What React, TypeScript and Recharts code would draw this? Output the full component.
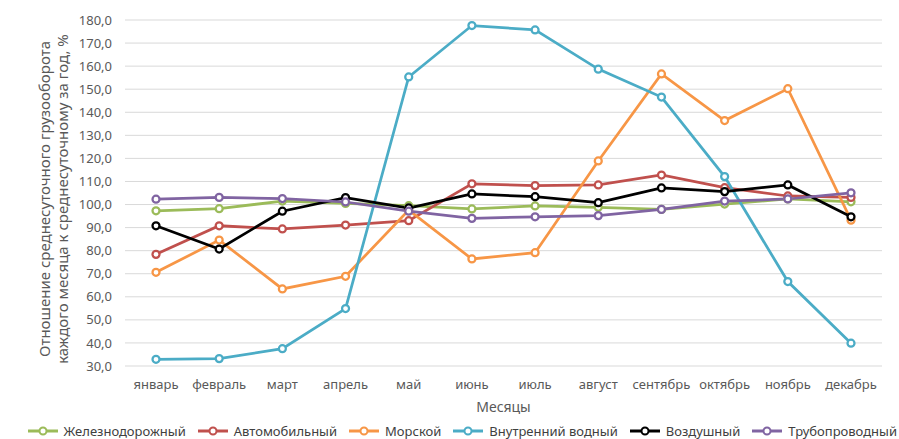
import { LineChart, Line, XAxis, YAxis, CartesianGrid, Legend } from 'recharts'

// Months on the category axis
const MONTHS = ['январь', 'февраль', 'март', 'апрель', 'май', 'июнь', 'июль', 'август', 'сентябрь', 'октябрь', 'ноябрь', 'декабрь']

// Ratio of monthly average daily freight turnover to annual average, %
const RAIL = [97.3, 98.2, 101.5, 100.5, 99.5, 98.1, 99.4, 98.8, 97.9, 100.2, 102.4, 101.2]
const ROAD = [78.4, 90.8, 89.4, 91.1, 93.0, 109.0, 108.2, 108.5, 112.8, 107.3, 103.7, 103.1]
const SEA = [70.6, 84.6, 63.4, 68.9, 97.6, 76.4, 79.1, 118.9, 156.6, 136.4, 150.2, 93.2]
const INLAND = [32.9, 33.2, 37.5, 54.9, 155.3, 177.6, 175.7, 158.7, 146.6, 112.1, 66.6, 39.9]
const AIR = [90.8, 80.7, 97.1, 103.0, 98.5, 104.6, 103.4, 100.8, 107.2, 105.6, 108.5, 94.7]
const PIPE = [102.3, 103.1, 102.6, 101.1, 97.1, 94.0, 94.7, 95.2, 97.9, 101.5, 102.4, 105.1]

const Y_TICKS = [30, 40, 50, 60, 70, 80, 90, 100, 110, 120, 130, 140, 150, 160, 170, 180]

const SERIES = [
  { key: 'rail', name: 'Железнодорожный', color: '#9BBB59', values: RAIL },
  { key: 'road', name: 'Автомобильный', color: '#C0504D', values: ROAD },
  { key: 'sea', name: 'Морской', color: '#F79646', values: SEA },
  { key: 'inland', name: 'Внутренний водный', color: '#4BACC6', values: INLAND },
  { key: 'air', name: 'Воздушный', color: '#000000', values: AIR },
  { key: 'pipe', name: 'Трубопроводный', color: '#8064A2', values: PIPE },
]

const FONT = '"Noto Sans", sans-serif'
const TEXT = '#595959'

const data = MONTHS.map((m, i) => {
  const row: Record<string, string | number> = { month: m }
  SERIES.forEach((s) => {
    row[s.key] = s.values[i]
  })
  return row
})

const fmt = (v: number) => v.toFixed(1).replace('.', ',')

function YTitle({ viewBox }: { viewBox?: { x: number; y: number; width: number; height: number } }) {
  if (!viewBox) return null
  const cy = viewBox.y + viewBox.height / 2 + 6
  const x1 = viewBox.x + 50
  const x2 = x1 + 18
  return (
    <g fill={TEXT} fontSize={15} fontFamily={FONT}>
      <text x={x1} y={cy} textAnchor="middle" transform={`rotate(-90, ${x1}, ${cy})`}>
        Отношение среднесуточного грузооборота
      </text>
      <text x={x2} y={cy} textAnchor="middle" transform={`rotate(-90, ${x2}, ${cy})`}>
        каждого месяца к среднесуточному за год, %
      </text>
    </g>
  )
}

function LegendContent() {
  return (
    <div style={{ display: 'flex', justifyContent: 'flex-end', gap: 12, fontFamily: FONT, fontSize: 13, color: '#404040', height: 23, alignItems: 'flex-end', paddingRight: 2, whiteSpace: 'nowrap' }}>
      {SERIES.map((s) => (
        <div key={s.key} style={{ display: 'flex', alignItems: 'center', gap: 6, height: 16 }}>
          <svg width={30} height={10}>
            <line x1={0} y1={5} x2={30} y2={5} stroke={s.color} strokeWidth={3} />
            <circle cx={15} cy={5} r={3.5} fill="#fff" stroke={s.color} strokeWidth={2} />
          </svg>
          <span>{s.name}</span>
        </div>
      ))}
    </div>
  )
}

export default function App() {
  return (
    <div style={{ position: 'absolute', left: 0, top: 0, width: 899, height: 439, background: '#fff' }}>
      <LineChart width={899} height={439} data={data} margin={{ top: 20, right: 17, bottom: 0, left: 0 }}>
        <CartesianGrid vertical={false} stroke="#D9D9D9" />
        <XAxis
          dataKey="month"
          axisLine={false}
          tickLine={false}
          tickSize={0}
          tickMargin={14}
          height={50}
          padding={{ left: 31, right: 31 }}
          tick={{ fontSize: 13, fill: TEXT, fontFamily: FONT }}
          interval={0}
          label={{ value: 'Месяцы', position: 'insideBottom', offset: 4, fontSize: 14, fill: TEXT, fontFamily: FONT }}
        />
        <YAxis
          domain={[30, 180]}
          ticks={Y_TICKS}
          tickFormatter={fmt}
          axisLine={false}
          tickLine={false}
          tickSize={0}
          tickMargin={13}
          width={125}
          tick={{ fontSize: 13, fill: TEXT, fontFamily: FONT }}
          label={<YTitle />}
        />
        <Legend verticalAlign="bottom" content={<LegendContent />} wrapperStyle={{ left: 0, width: 899 }} />
        {SERIES.map((s) => (
          <Line
            key={s.key}
            type="linear"
            dataKey={s.key}
            name={s.name}
            stroke={s.color}
            strokeWidth={2.75}
            dot={{ r: 3.5, fill: '#fff', stroke: s.color, strokeWidth: 2.25 }}
            isAnimationActive={false}
          />
        ))}
      </LineChart>
    </div>
  )
}
